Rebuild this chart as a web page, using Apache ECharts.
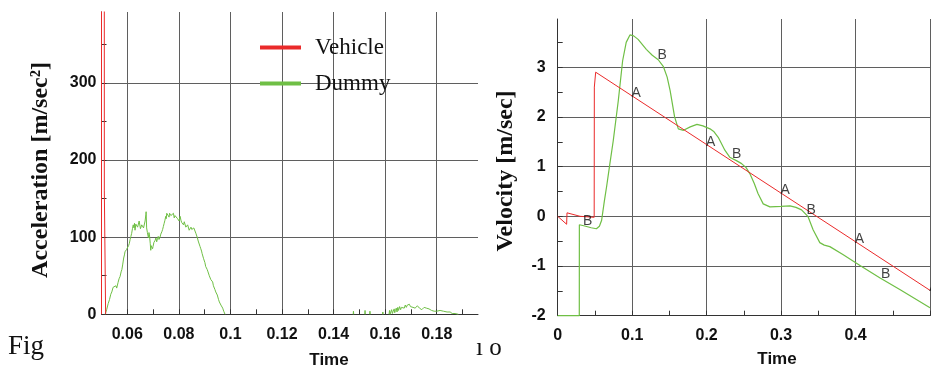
<!DOCTYPE html>
<html>
<head>
<meta charset="utf-8">
<script src="https://cdn.jsdelivr.net/npm/echarts@6.0.0/dist/echarts.min.js"></script>
<style>
  html, body { margin: 0; padding: 0; background: #fff; }
  #chart { width: 931px; height: 368px; }
</style>
</head>
<body>
<div id="chart"></div>
<script>
// acceleration panel (left)
const accXTicks = [0.06, 0.08, 0.1, 0.12, 0.14, 0.16, 0.18];
const accXMinor = [0.07, 0.09, 0.11, 0.13, 0.15, 0.17, 0.19];
const accYTicks = [0, 100, 200, 300];
const accYMinor = [50, 150, 250, 350];

// velocity panel (right)
const velXTicks = [0, 0.1, 0.2, 0.3, 0.4, 0.5];
const velXLabels = [0, 0.1, 0.2, 0.3, 0.4];
const velXMinor = [0.05, 0.15, 0.25, 0.35, 0.45];
const velYTicks = [-2, -1, 0, 1, 2, 3];
const velYMinor = [-1.5, -0.5, 0.5, 1.5, 2.5, 3.5];

const vehicleAcc = [
  [0.05, 0], [0.05, 5000], [0.051, 5000], [0.0511, 160], [0.0516, 0]
];

const dummyAcc = [
  [0.0514, 0], [0.052, 6], [0.0526, 14], [0.0531, 19], [0.0536, 26], [0.054, 29], [0.0545, 35], [0.0549, 36],
  [0.0552, 33], [0.0556, 37], [0.0559, 34], [0.0564, 41], [0.0568, 46], [0.0572, 49], [0.0576, 55], [0.0579, 58],
  [0.0582, 64], [0.0586, 73], [0.0589, 77], [0.0591, 81], [0.0594, 79], [0.0597, 84], [0.06, 86], [0.0603, 83],
  [0.0605, 89], [0.0608, 92], [0.0611, 97], [0.0614, 101], [0.0617, 105], [0.062, 111], [0.0623, 116], [0.0626, 112],
  [0.0628, 118], [0.063, 109], [0.0633, 117], [0.0637, 119], [0.064, 113], [0.0643, 114], [0.0646, 121], [0.0649, 120],
  [0.0651, 111], [0.0653, 109], [0.0656, 116], [0.066, 118], [0.0663, 112], [0.0666, 114], [0.0669, 121], [0.0672, 129],
  [0.0673, 133], [0.0675, 112], [0.0678, 106], [0.0682, 99], [0.0684, 106], [0.0686, 103], [0.0689, 92], [0.0691, 83],
  [0.0693, 89], [0.0696, 90], [0.0698, 85], [0.07, 88], [0.0703, 93], [0.0705, 91], [0.0708, 96], [0.0711, 99],
  [0.0714, 94], [0.0717, 98], [0.072, 101], [0.0723, 97], [0.0727, 100], [0.073, 104], [0.0734, 107], [0.0737, 110],
  [0.074, 114], [0.0743, 118], [0.0746, 122], [0.0749, 127], [0.0751, 124], [0.0753, 131], [0.0756, 133], [0.0759, 129],
  [0.0762, 126], [0.0764, 131], [0.0766, 132], [0.0769, 128], [0.0772, 126], [0.0775, 130], [0.0779, 131], [0.0782, 125],
  [0.0785, 128], [0.0788, 126], [0.0792, 130], [0.0795, 124], [0.0798, 125], [0.0801, 121], [0.0805, 127], [0.0808, 122],
  [0.0811, 119], [0.0815, 121], [0.0818, 116], [0.0821, 120], [0.0824, 118], [0.0827, 113], [0.0831, 112], [0.0834, 116],
  [0.0837, 114], [0.084, 109], [0.0843, 110], [0.0847, 113], [0.085, 110], [0.0854, 111], [0.0858, 112], [0.0861, 111],
  [0.0863, 110], [0.0866, 105], [0.0869, 103], [0.0872, 99], [0.0875, 95], [0.0878, 93], [0.0882, 88], [0.0885, 85],
  [0.0888, 82], [0.089, 79], [0.0893, 77], [0.0896, 72], [0.0898, 70], [0.0901, 67], [0.0904, 62], [0.0907, 61],
  [0.091, 58], [0.0913, 55], [0.0916, 54], [0.0918, 50], [0.0921, 49], [0.0924, 45], [0.0928, 44], [0.0931, 42],
  [0.0934, 37], [0.0937, 35], [0.094, 32], [0.0943, 29], [0.0946, 27], [0.0949, 25], [0.0951, 23], [0.0954, 19],
  [0.0957, 16], [0.096, 14], [0.0963, 12], [0.0967, 10], [0.097, 8], [0.0974, 4], [0.0979, 0],
  [0.098, '-'],
  [0.1476, 0], [0.1477, 4], [0.1478, 0], [0.148, '-'],
  [0.1521, 0], [0.1522, 5], [0.1523, 0], [0.153, '-'],
  [0.154, 0], [0.1541, 4], [0.1542, 0], [0.155, '-'],
  [0.159, 0], [0.1591, 3], [0.1592, 0], [0.16, '-'],
  [0.1615, 0], [0.1617, 5], [0.1619, 0], [0.1622, 2], [0.1625, 6], [0.1628, 1], [0.1631, 4], [0.1635, 7],
  [0.1637, 2], [0.164, 5], [0.1643, 8], [0.1646, 3], [0.1649, 9], [0.1652, 5], [0.1656, 10], [0.166, 6],
  [0.1663, 9], [0.1666, 7], [0.167, 11], [0.1674, 8], [0.1678, 12], [0.1682, 9], [0.1686, 12], [0.169, 11],
  [0.1694, 13], [0.1698, 10], [0.1703, 11], [0.1708, 9], [0.1712, 10], [0.1716, 8], [0.172, 9], [0.1725, 11],
  [0.1729, 10], [0.1733, 8], [0.1737, 7], [0.1742, 6], [0.1746, 8], [0.1751, 9], [0.1755, 7], [0.176, 8],
  [0.1765, 6], [0.177, 7], [0.1774, 6], [0.178, 5], [0.1785, 6], [0.179, 4], [0.1794, 5], [0.18, 4],
  [0.1806, 3], [0.1813, 5], [0.182, 3], [0.1826, 4], [0.1833, 2], [0.184, 3], [0.1846, 2], [0.1852, 3],
  [0.186, 1], [0.1866, 2], [0.1871, 1], [0.1878, 2], [0.1884, 0]
];

const vehicleVel = [
  [0, 0], [0.012, -0.16], [0.0125, 0.07], [0.03, 0.0], [0.049, -0.02], [0.0492, 2.6], [0.051, 2.9], [0.5, -1.49]
];

const dummyVel = [
  [0, -2], [0.029, -2], [0.0291, -0.17], [0.035, -0.19], [0.045, -0.23], [0.052, -0.25], [0.056, -0.2],
  [0.059, -0.08], [0.0626, 0.3], [0.0657, 0.6], [0.07, 1.05], [0.0746, 1.52], [0.0814, 2.33], [0.0872, 3.13],
  [0.092, 3.5], [0.097, 3.65], [0.102, 3.63], [0.108, 3.56], [0.119, 3.36], [0.127, 3.24], [0.135, 3.15],
  [0.142, 3.01], [0.147, 2.8], [0.151, 2.53], [0.157, 2.0], [0.162, 1.76], [0.169, 1.73], [0.178, 1.8],
  [0.187, 1.85], [0.195, 1.82], [0.2045, 1.76], [0.21, 1.7], [0.2156, 1.59], [0.2245, 1.33], [0.231, 1.19],
  [0.24, 1.12], [0.247, 1.06], [0.253, 0.98], [0.258, 0.86], [0.264, 0.66], [0.269, 0.46], [0.276, 0.25],
  [0.285, 0.19], [0.3, 0.2], [0.312, 0.21], [0.32, 0.18], [0.3275, 0.13], [0.336, 0.0], [0.343, -0.27],
  [0.352, -0.53], [0.358, -0.58], [0.3655, -0.61], [0.383, -0.77], [0.406, -0.99], [0.433, -1.24],
  [0.46, -1.48], [0.5, -1.84]
];

// curve tags drawn on the lines
const tagsA = [[0.1, 2.42], [0.2, 1.44], [0.3, 0.46], [0.4, -0.52], [0.5, -1.49]];
const tagsB = [[0.035, -0.19], [0.135, 3.15], [0.235, 1.15], [0.335, 0.02], [0.435, -1.26]];

const RED = '#ea2a2a';
const GREEN = '#6fbf45';
const tickFont = { fontFamily: 'Liberation Sans', fontWeight: 'bold', fontSize: 16, color: '#111' };

function majorAxis(grid, pos, min, max, ticks, labels, margin) {
  return {
    type: 'value', gridIndex: grid, position: pos, min: min, max: max,
    axisLine: { show: true, onZero: false, lineStyle: { color: '#333', width: 1 } },
    axisTick: { show: true, inside: true, length: 5, customValues: ticks, lineStyle: { color: '#333' } },
    axisLabel: Object.assign({ customValues: labels, margin: margin, showMinLabel: true, showMaxLabel: true }, tickFont),
    splitLine: { show: true, lineStyle: { color: '#5f5f5f', width: 1 } }
  };
}

function minorAxis(grid, pos, min, max, ticks) {
  return {
    type: 'value', gridIndex: grid, position: pos, offset: 0, min: min, max: max,
    axisLine: { show: false, onZero: false },
    axisTick: { show: true, inside: true, length: 5, customValues: ticks, lineStyle: { color: '#333' } },
    axisLabel: { show: false },
    splitLine: { show: false }
  };
}

const chart = echarts.init(document.getElementById('chart'));

chart.setOption({
  animation: false,
  grid: [
    { left: 101.5, top: 12, width: 376.5, height: 302.3 },
    { left: 557.7, top: 19, width: 372.3, height: 296.7 }
  ],
  xAxis: [
    majorAxis(0, 'bottom', 0.05, 0.196, accXTicks, accXTicks, 12),
    minorAxis(0, 'bottom', 0.05, 0.196, accXMinor),
    majorAxis(1, 'bottom', 0, 0.5, velXTicks, velXLabels, 12),
    minorAxis(1, 'bottom', 0, 0.5, velXMinor)
  ],
  yAxis: [
    majorAxis(0, 'left', 0, 392, accYTicks, accYTicks, 5),
    minorAxis(0, 'left', 0, 392, accYMinor),
    majorAxis(1, 'left', -2, 3.97, velYTicks, velYTicks, 12),
    minorAxis(1, 'left', -2, 3.97, velYMinor)
  ],
  legend: {
    data: ['Vehicle', 'Dummy'],
    orient: 'vertical',
    left: 260,
    top: 36,
    padding: 0,
    icon: 'rect',
    itemWidth: 41,
    itemHeight: 4,
    itemGap: 13,
    textStyle: { fontFamily: 'Liberation Serif', fontSize: 23, color: '#111', padding: [0, 0, 0, 9] }
  },
  graphic: [
    { type: 'text', left: 8, top: 333, style: { text: 'Fig', font: '27px "Liberation Serif"', fill: '#111' } },
    { type: 'text', left: 476, top: 336, style: { text: 'ı o', font: '25px "Liberation Serif"', fill: '#111' } },
    { type: 'text', x: 329, y: 360, style: { text: 'Time', font: 'bold 17px "Liberation Sans"', fill: '#111', align: 'center', verticalAlign: 'middle' } },
    { type: 'text', x: 777, y: 359, style: { text: 'Time', font: 'bold 17px "Liberation Sans"', fill: '#111', align: 'center', verticalAlign: 'middle' } },
    { type: 'text', x: 41, y: 170, rotation: Math.PI / 2, style: { text: 'Acceleration [m/sec²]', font: 'bold 24px "Liberation Serif"', fill: '#111', align: 'center', verticalAlign: 'middle' } },
    { type: 'text', x: 506, y: 171, rotation: Math.PI / 2, style: { text: 'Velocity [m/sec]', font: 'bold 24px "Liberation Serif"', fill: '#111', align: 'center', verticalAlign: 'middle' } }
  ],
  series: [
    { name: 'Vehicle', type: 'line', xAxisIndex: 0, yAxisIndex: 0, data: vehicleAcc, showSymbol: false, color: RED, lineStyle: { width: 1 }, z: 4 },
    { name: 'Dummy', type: 'line', xAxisIndex: 0, yAxisIndex: 0, data: dummyAcc, showSymbol: false, color: GREEN, lineStyle: { width: 1 }, z: 3 },
    { name: 'Vehicle', type: 'line', xAxisIndex: 2, yAxisIndex: 2, data: vehicleVel, showSymbol: false, color: RED, lineStyle: { width: 1 }, z: 4 },
    { name: 'Dummy', type: 'line', xAxisIndex: 2, yAxisIndex: 2, data: dummyVel, showSymbol: false, clip: false, color: GREEN, lineStyle: { width: 1.2 }, z: 3 },
    {
      name: 'A', type: 'scatter', xAxisIndex: 2, yAxisIndex: 2, data: tagsA, symbolSize: 0, silent: true, z: 5,
      label: { show: true, formatter: 'A', position: 'inside', offset: [4, -3], fontFamily: 'Liberation Sans', fontSize: 14, color: '#111' }
    },
    {
      name: 'B', type: 'scatter', xAxisIndex: 2, yAxisIndex: 2, data: tagsB, symbolSize: 0, silent: true, z: 5,
      label: { show: true, formatter: 'B', position: 'inside', offset: [4, -5], fontFamily: 'Liberation Sans', fontSize: 14, color: '#111' }
    }
  ]
});
</script>
</body>
</html>
